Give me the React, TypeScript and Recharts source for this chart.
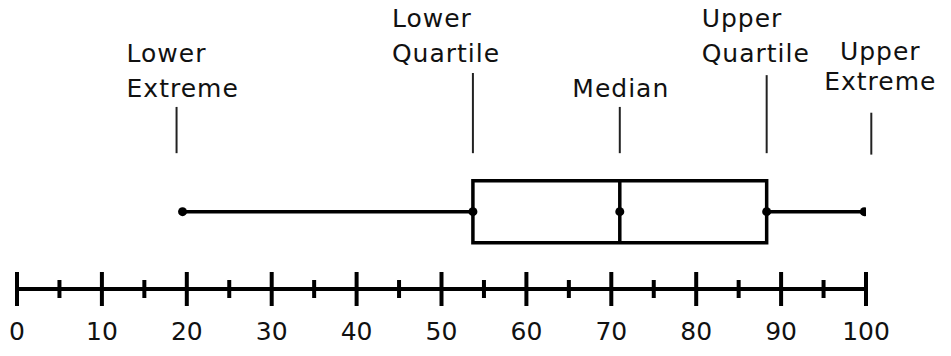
import {
  ComposedChart,
  XAxis,
  YAxis,
  Scatter,
  ReferenceArea,
  ReferenceLine,
} from "recharts";

const majorTicks = [0, 10, 20, 30, 40, 50, 60, 70, 80, 90, 100];
const minorTicks = [5, 15, 25, 35, 45, 55, 65, 75, 85, 95];
const summaryNames = ["Lower Extreme", "Lower Quartile", "Median", "Upper Quartile", "Upper Extreme"];
const summaryValues = [19.5, 53.7, 71, 88.3, 99.8];

// vertical layout (y axis runs 0..4, hidden)
const ROW_Y = 1.07;
const BOX_HALF = 0.43;

// where each caption + pointer sits
const captionLayout = [
  { top: 2.52, bottom: 1.88, dx: -6, anchor: "start", textDx: -50, gap: 10, lineHeight: 35 },
  { top: 2.99, bottom: 1.88, dx: 0, anchor: "start", textDx: -81, gap: 11, lineHeight: 35 },
  { top: 2.52, bottom: 1.88, dx: 0, anchor: "middle", textDx: 1, gap: 10, lineHeight: 35 },
  { top: 2.96, bottom: 1.88, dx: 0, anchor: "start", textDx: -65, gap: 13, lineHeight: 35 },
  { top: 2.44, bottom: 1.86, dx: 7, anchor: "middle", textDx: 9, gap: 23, lineHeight: 30 },
];

const FONT = "'DejaVu Sans', sans-serif";

const axisTicks = [...majorTicks, ...minorTicks].sort((a, b) => a - b);
const points = summaryValues.map((v) => ({ x: v, y: ROW_Y }));
const [lowExt, lowQ, median, upQ, upExt] = summaryValues;

function AxisTick(props: any) {
  const { x, y, payload } = props;
  const major = majorTicks.includes(payload.value);
  const len = major ? 17 : 9;
  return (
    <g>
      <line x1={x} x2={x} y1={y - len} y2={y + len} stroke="#000" strokeWidth={4} />
      {major && (
        <text x={x} y={y + 51} textAnchor="middle" fontFamily={FONT} fontSize={25} fill="#111">
          {payload.value}
        </text>
      )}
    </g>
  );
}

function makeCaption(name: string, layout: (typeof captionLayout)[number]) {
  const lines = name.split(" ");
  return (p: any) => {
    const x = p.x1 + layout.dx;
    const top = Math.min(p.y1, p.y2);
    const bottom = Math.max(p.y1, p.y2);
    const last = top - layout.gap;
    return (
      <g>
        <line x1={x} x2={x} y1={top} y2={bottom} stroke="#222" strokeWidth={2} />
        {lines.map((ln, i) => (
          <text
            key={ln}
            x={x + layout.textDx}
            y={last - (lines.length - 1 - i) * layout.lineHeight}
            textAnchor={layout.anchor}
            fontFamily={FONT}
            fontSize={25}
            letterSpacing={1}
            fill="#111"
          >
            {ln}
          </text>
        ))}
      </g>
    );
  };
}

export default function App() {
  return (
    <div style={{ position: "absolute", left: 0, top: 0, width: 951, height: 356, background: "#fff" }}>
      <ComposedChart width={951} height={356} margin={{ top: 0, right: 85, bottom: 0, left: 17 }}>
        <XAxis
          type="number"
          dataKey="x"
          domain={[0, 100]}
          ticks={axisTicks}
          interval={0}
          height={67}
          tickSize={0}
          tickMargin={0}
          tickLine={false}
          axisLine={{ stroke: "#000", strokeWidth: 4 }}
          tick={AxisTick}
          allowDataOverflow
        />
        <YAxis type="number" dataKey="y" domain={[0, 4]} hide allowDataOverflow />

        <ReferenceArea
          x1={lowQ}
          x2={upQ}
          y1={ROW_Y - BOX_HALF}
          y2={ROW_Y + BOX_HALF}
          fill="none"
          stroke="#000"
          strokeWidth={3.5}
        />
        <ReferenceLine
          segment={[{ x: median, y: ROW_Y - BOX_HALF }, { x: median, y: ROW_Y + BOX_HALF }]}
          stroke="#000"
          strokeWidth={3.5}
        />
        <ReferenceLine segment={[{ x: lowExt, y: ROW_Y }, { x: lowQ, y: ROW_Y }]} stroke="#000" strokeWidth={3.5} />
        <ReferenceLine segment={[{ x: upQ, y: ROW_Y }, { x: upExt, y: ROW_Y }]} stroke="#000" strokeWidth={3.5} />

        {summaryNames.map((name, i) => (
          <ReferenceLine
            key={name}
            segment={[
              { x: summaryValues[i], y: captionLayout[i].bottom },
              { x: summaryValues[i], y: captionLayout[i].top },
            ]}
            shape={makeCaption(name, captionLayout[i])}
          />
        ))}

        <Scatter
          data={points}
          isAnimationActive={false}
          shape={(p: any) => <circle cx={p.cx} cy={p.cy} r={4.5} fill="#000" />}
        />
      </ComposedChart>
    </div>
  );
}
